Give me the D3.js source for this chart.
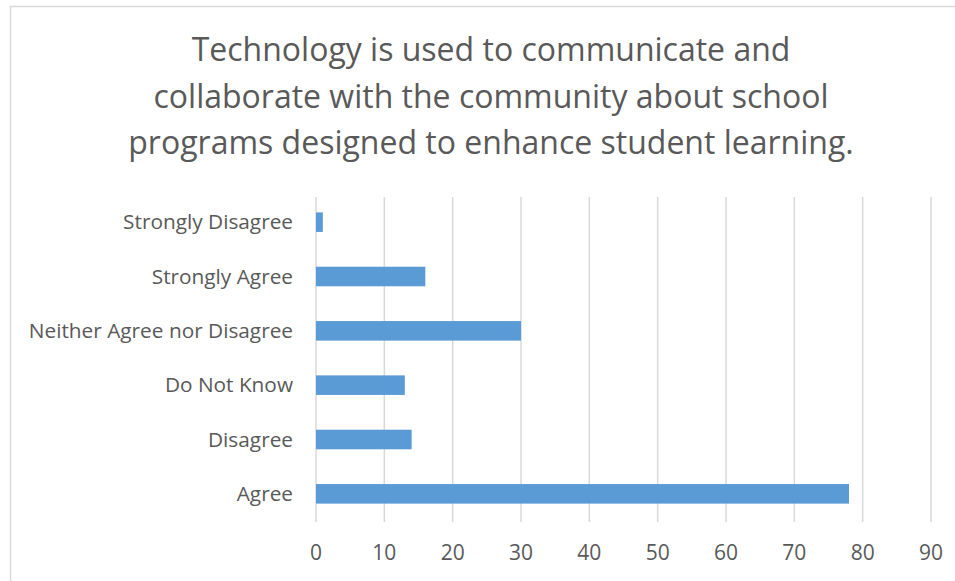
<!DOCTYPE html>
<html><head><meta charset="utf-8">
<script src="https://cdn.jsdelivr.net/npm/d3@7"></script>
<style>body{margin:0;background:#fff;} svg{display:block;}</style>
</head><body>
<script>
const categories = ["Strongly Disagree","Strongly Agree","Neither Agree nor Disagree","Do Not Know","Disagree","Agree"];
const values = [1,16,30,13,14,78];
const tickValues = [0,10,20,30,40,50,60,70,80,90];
const titleLines = ["Technology is used to communicate and","collaborate with the community about school","programs designed to enhance student learning."];

const W = 955, H = 581;
const svg = d3.select("body").append("svg").attr("width", W).attr("height", H);
svg.append("rect").attr("x",10.5).attr("y",6.5).attr("width",980).attr("height",600)
  .attr("fill","#fff").attr("stroke","#d9d9d9").attr("stroke-width",1.5);

const font = "'Open Sans', 'Liberation Sans', sans-serif";
const x = d3.scaleLinear().domain([0,90]).range([316,931]);
const y = d3.scaleBand().domain(categories).range([195,521]).paddingInner(0.64).paddingOuter(0.32);

// gridlines
svg.append("g").selectAll("line").data(tickValues).join("line")
  .attr("x1",d=>x(d)).attr("x2",d=>x(d)).attr("y1",197).attr("y2",522)
  .attr("stroke","#d9d9d9").attr("stroke-width",1.5);

// bars
svg.append("g").selectAll("rect").data(values).join("rect")
  .attr("x",x(0)).attr("y",(d,i)=>y(categories[i]))
  .attr("width",d=>x(d)-x(0)).attr("height",y.bandwidth())
  .attr("fill","#5b9bd5");

// x tick labels
svg.append("g").selectAll("text").data(tickValues).join("text")
  .attr("x",d=>x(d)).attr("y",560).attr("text-anchor","middle")
  .attr("font-family",font).attr("font-size",21).attr("fill","#595959")
  .text(d=>d);

// category labels
svg.append("g").selectAll("text").data(categories).join("text")
  .attr("x",293).attr("y",d=>y(d)+y.bandwidth()/2).attr("dy","0.35em")
  .attr("text-anchor","end").attr("font-family",font).attr("font-size",20.8).attr("fill","#595959")
  .text(d=>d);

// title
svg.append("g").selectAll("text").data(titleLines).join("text")
  .attr("x",491).attr("y",(d,i)=>61+i*46.5).attr("text-anchor","middle")
  .attr("font-family",font).attr("font-size",32).attr("fill","#595959")
  .text(d=>d);
</script>
</body></html>
